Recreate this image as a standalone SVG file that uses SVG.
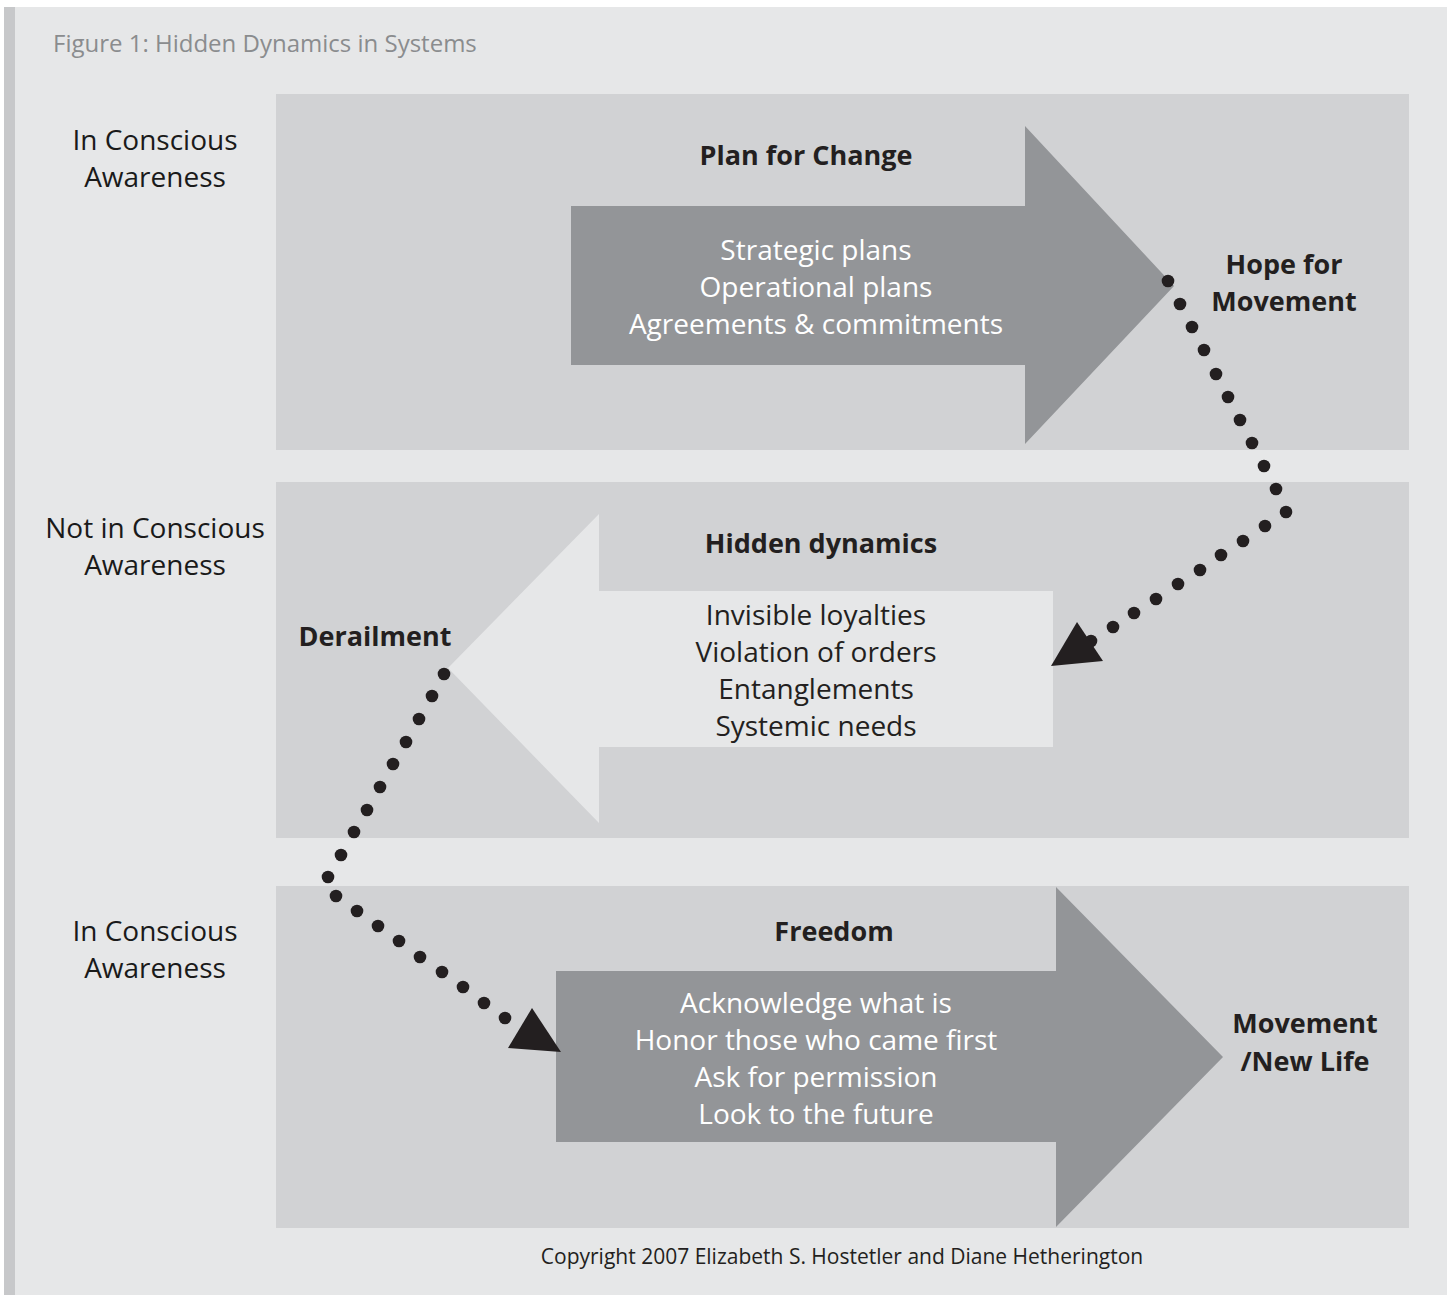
<svg xmlns="http://www.w3.org/2000/svg" width="1447" height="1295" viewBox="0 0 1447 1295">
<style>
text{font-family:"Open Sans","Noto Sans","Liberation Sans",sans-serif;text-anchor:middle}
.side{font-size:28px;fill:#1a1a1a}
.bold{font-size:27px;font-weight:700;fill:#231f20}
.wt{font-size:28px;fill:#ffffff}
.dk{font-size:28px;fill:#231f20}
.panel{fill:#d1d2d4}
.dark{fill:#939598}
.light{fill:#e6e7e8}
.dot{fill:#231f20}
</style>
<rect x="0" y="0" width="1447" height="1295" fill="#ffffff"/>
<rect x="4" y="7" width="1443" height="1288" fill="#e6e7e8"/>
<rect x="4" y="7" width="11" height="1288" fill="#c7c8ca"/>
<text x="53" y="52" style="text-anchor:start;font-size:24px;fill:#8a8c8e">Figure 1: Hidden Dynamics in Systems</text>

<g id="panel-top">
<rect class="panel" x="276" y="94" width="1133" height="356"/>
</g>
<g id="panel-middle">
<rect class="panel" x="276" y="482" width="1133" height="356"/>
</g>
<g id="panel-bottom">
<rect class="panel" x="276" y="886" width="1133" height="342"/>
</g>

<g id="label-top">
<text class="side" x="155" y="150">In Conscious</text>
<text class="side" x="155" y="187">Awareness</text>
</g>
<g id="label-middle">
<text class="side" x="155" y="538">Not in Conscious</text>
<text class="side" x="155" y="575">Awareness</text>
</g>
<g id="label-bottom">
<text class="side" x="155" y="941">In Conscious</text>
<text class="side" x="155" y="978">Awareness</text>
</g>

<g id="plan-for-change">
<polygon class="dark" points="571,206 1025,206 1025,126 1174,286 1025,444 1025,365 571,365"/>
<text class="bold" x="806" y="165">Plan for Change</text>
<text class="wt" x="816" y="260">Strategic plans</text>
<text class="wt" x="816" y="297">Operational plans</text>
<text class="wt" x="816" y="334">Agreements &amp; commitments</text>
</g>
<g id="hope-for-movement">
<text class="bold" x="1284" y="274">Hope for</text>
<text class="bold" x="1284" y="311">Movement</text>
</g>

<g id="hidden-dynamics">
<polygon class="light" points="1053,591 599,591 599,514 448,668 599,823 599,747 1053,747"/>
<text class="bold" x="821" y="553">Hidden dynamics</text>
<text class="dk" x="816" y="625">Invisible loyalties</text>
<text class="dk" x="816" y="662">Violation of orders</text>
<text class="dk" x="816" y="699">Entanglements</text>
<text class="dk" x="816" y="736">Systemic needs</text>
</g>
<g id="derailment">
<text class="bold" x="375" y="646">Derailment</text>
</g>

<g id="freedom">
<polygon class="dark" points="556,971 1056,971 1056,887 1223,1057 1056,1227 1056,1142 556,1142"/>
<text class="bold" x="834" y="941">Freedom</text>
<text class="wt" x="816" y="1013">Acknowledge what is</text>
<text class="wt" x="816" y="1050">Honor those who came first</text>
<text class="wt" x="816" y="1087">Ask for permission</text>
<text class="wt" x="816" y="1124">Look to the future</text>
</g>
<g id="movement-new-life">
<text class="bold" x="1305" y="1033">Movement</text>
<text class="bold" x="1305" y="1071">/New Life</text>
</g>

<g id="connectors">
<g class="dot">
<circle cx="1168" cy="281" r="6.3"/>
<circle cx="1180" cy="304" r="6.3"/>
<circle cx="1192" cy="327" r="6.3"/>
<circle cx="1204" cy="350" r="6.3"/>
<circle cx="1216" cy="374" r="6.3"/>
<circle cx="1228" cy="397" r="6.3"/>
<circle cx="1240" cy="420" r="6.3"/>
<circle cx="1252" cy="443" r="6.3"/>
<circle cx="1264" cy="466" r="6.3"/>
<circle cx="1276" cy="489" r="6.3"/>
<circle cx="1286" cy="512" r="6.3"/>
<circle cx="1265" cy="526" r="6.3"/>
<circle cx="1243" cy="541" r="6.3"/>
<circle cx="1221" cy="555" r="6.3"/>
<circle cx="1200" cy="570" r="6.3"/>
<circle cx="1178" cy="584" r="6.3"/>
<circle cx="1156" cy="599" r="6.3"/>
<circle cx="1134" cy="613" r="6.3"/>
<circle cx="1113" cy="627" r="6.3"/>
<circle cx="1091" cy="641" r="6.3"/>
<polygon points="1077,622 1051,666 1103,661"/>

<circle cx="444" cy="674" r="6.3"/>
<circle cx="432" cy="696" r="6.3"/>
<circle cx="419" cy="719" r="6.3"/>
<circle cx="406" cy="742" r="6.3"/>
<circle cx="393" cy="764" r="6.3"/>
<circle cx="380" cy="787" r="6.3"/>
<circle cx="367" cy="810" r="6.3"/>
<circle cx="354" cy="832" r="6.3"/>
<circle cx="341" cy="855" r="6.3"/>
<circle cx="328" cy="877" r="6.3"/>
<circle cx="336" cy="896" r="6.3"/>
<circle cx="357" cy="911" r="6.3"/>
<circle cx="378" cy="926" r="6.3"/>
<circle cx="399" cy="941" r="6.3"/>
<circle cx="420" cy="957" r="6.3"/>
<circle cx="442" cy="972" r="6.3"/>
<circle cx="463" cy="987" r="6.3"/>
<circle cx="484" cy="1003" r="6.3"/>
<circle cx="505" cy="1018" r="6.3"/>
<polygon points="532,1008 508,1048 561,1052"/>
</g>
</g>

<g id="copyright">
<text x="842" y="1264" style="font-size:21px;fill:#231f20">Copyright 2007 Elizabeth S. Hostetler and Diane Hetherington</text>
</g>
</svg>
